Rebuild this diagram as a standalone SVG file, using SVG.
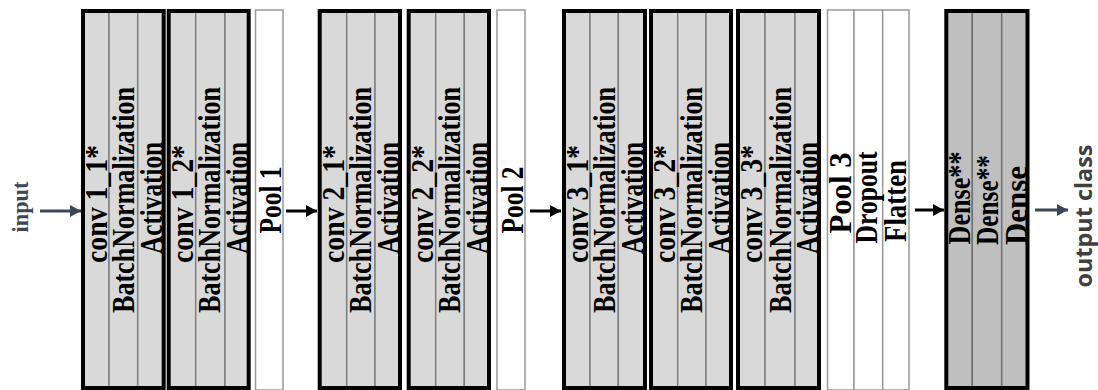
<svg xmlns="http://www.w3.org/2000/svg" width="1098" height="390" viewBox="0 0 1098 390">
<style>
.cell{fill:#d9d9d9;stroke:#808080;stroke-width:1.5}
.dcell{fill:#bfbfbf;stroke:#707070;stroke-width:1.5}
.wcell{fill:#ffffff;stroke:#999999;stroke-width:1.5}
.frame{fill:none;stroke:#000000;stroke-width:4}
.t{font-family:"Liberation Serif","Times New Roman",serif;font-weight:bold;font-size:31px;fill:#000;text-anchor:middle}
.lbl{font-family:"Liberation Serif","Times New Roman",serif;font-weight:bold;font-size:24px;fill:#3b4656;text-anchor:middle}
.out{font-family:"Open Sans","Liberation Sans",sans-serif;font-weight:bold;font-size:24px;fill:#404040;text-anchor:middle}
.ab{stroke:#000;stroke-width:3;fill:none}
.as{stroke:#3b4656;stroke-width:3;fill:none}
</style>
<defs>
<marker id="hb" markerUnits="userSpaceOnUse" markerWidth="11" markerHeight="12" refX="11" refY="6" orient="auto"><path d="M0,0 L11,6 L0,12 z" fill="#000"/></marker>
<marker id="hs" markerUnits="userSpaceOnUse" markerWidth="11" markerHeight="12" refX="11" refY="6" orient="auto"><path d="M0,0 L11,6 L0,12 z" fill="#3b4656"/></marker>
</defs>
<rect width="1098" height="390" fill="#fff"/>

<g id="input">
<text class="lbl" transform="translate(28,207) rotate(-90)" textLength="51" lengthAdjust="spacingAndGlyphs">input</text>
</g>

<g id="conv1_1">
<rect class="cell" x="83" y="11" width="26" height="377"/>
<rect class="cell" x="109" y="11" width="28.7" height="377"/>
<rect class="cell" x="137.7" y="11" width="26" height="377"/>
<rect class="frame" x="83" y="11" width="80.7" height="377"/>
<text class="t" transform="translate(107,204) rotate(-90)" textLength="118" lengthAdjust="spacingAndGlyphs">conv 1_1*</text>
<text class="t" transform="translate(134,200) rotate(-90)" textLength="226" lengthAdjust="spacingAndGlyphs">BatchNormalization</text>
<text class="t" transform="translate(162,198) rotate(-90)" textLength="112" lengthAdjust="spacingAndGlyphs">Activation</text>
</g>

<g id="conv1_2">
<rect class="cell" x="168.7" y="11" width="27" height="377"/>
<rect class="cell" x="195.7" y="11" width="29.3" height="377"/>
<rect class="cell" x="225" y="11" width="23.7" height="377"/>
<rect class="frame" x="168.7" y="11" width="80" height="377"/>
<text class="t" transform="translate(193,204) rotate(-90)" textLength="118" lengthAdjust="spacingAndGlyphs">conv 1_2*</text>
<text class="t" transform="translate(220,200) rotate(-90)" textLength="226" lengthAdjust="spacingAndGlyphs">BatchNormalization</text>
<text class="t" transform="translate(247.5,198) rotate(-90)" textLength="112" lengthAdjust="spacingAndGlyphs">Activation</text>
</g>

<g id="pool1">
<rect class="wcell" x="255.5" y="10" width="27.5" height="380"/>
<text class="t" transform="translate(281,200) rotate(-90)" textLength="67" lengthAdjust="spacingAndGlyphs">Pool 1</text>
</g>

<g id="conv2_1">
<rect class="cell" x="319.7" y="11" width="27" height="377"/>
<rect class="cell" x="346.7" y="11" width="28.3" height="377"/>
<rect class="cell" x="375" y="11" width="25" height="377"/>
<rect class="frame" x="319.7" y="11" width="80.3" height="377"/>
<text class="t" transform="translate(344,204) rotate(-90)" textLength="118" lengthAdjust="spacingAndGlyphs">conv 2_1*</text>
<text class="t" transform="translate(371,200) rotate(-90)" textLength="226" lengthAdjust="spacingAndGlyphs">BatchNormalization</text>
<text class="t" transform="translate(398.5,198) rotate(-90)" textLength="112" lengthAdjust="spacingAndGlyphs">Activation</text>
</g>

<g id="conv2_2">
<rect class="cell" x="408.7" y="11" width="27" height="377"/>
<rect class="cell" x="435.7" y="11" width="28.6" height="377"/>
<rect class="cell" x="464.3" y="11" width="24.7" height="377"/>
<rect class="frame" x="408.7" y="11" width="80.3" height="377"/>
<text class="t" transform="translate(433,204) rotate(-90)" textLength="118" lengthAdjust="spacingAndGlyphs">conv 2_2*</text>
<text class="t" transform="translate(460,200) rotate(-90)" textLength="226" lengthAdjust="spacingAndGlyphs">BatchNormalization</text>
<text class="t" transform="translate(487.5,198) rotate(-90)" textLength="112" lengthAdjust="spacingAndGlyphs">Activation</text>
</g>

<g id="pool2">
<rect class="wcell" x="497" y="10" width="28" height="380"/>
<text class="t" transform="translate(523,200) rotate(-90)" textLength="67" lengthAdjust="spacingAndGlyphs">Pool 2</text>
</g>

<g id="conv3_1">
<rect class="cell" x="564" y="11" width="26" height="377"/>
<rect class="cell" x="590" y="11" width="28.3" height="377"/>
<rect class="cell" x="618.3" y="11" width="26.7" height="377"/>
<rect class="frame" x="564" y="11" width="81" height="377"/>
<text class="t" transform="translate(588,204) rotate(-90)" textLength="118" lengthAdjust="spacingAndGlyphs">conv 3_1*</text>
<text class="t" transform="translate(615,200) rotate(-90)" textLength="226" lengthAdjust="spacingAndGlyphs">BatchNormalization</text>
<text class="t" transform="translate(643,198) rotate(-90)" textLength="112" lengthAdjust="spacingAndGlyphs">Activation</text>
</g>

<g id="conv3_2">
<rect class="cell" x="651" y="11" width="26.7" height="377"/>
<rect class="cell" x="677.7" y="11" width="28.3" height="377"/>
<rect class="cell" x="706" y="11" width="25" height="377"/>
<rect class="frame" x="651" y="11" width="80" height="377"/>
<text class="t" transform="translate(675,204) rotate(-90)" textLength="118" lengthAdjust="spacingAndGlyphs">conv 3_2*</text>
<text class="t" transform="translate(702,200) rotate(-90)" textLength="226" lengthAdjust="spacingAndGlyphs">BatchNormalization</text>
<text class="t" transform="translate(730,198) rotate(-90)" textLength="112" lengthAdjust="spacingAndGlyphs">Activation</text>
</g>

<g id="conv3_3">
<rect class="cell" x="738" y="11" width="27" height="377"/>
<rect class="cell" x="765" y="11" width="30" height="377"/>
<rect class="cell" x="795" y="11" width="24" height="377"/>
<rect class="frame" x="738" y="11" width="81" height="377"/>
<text class="t" transform="translate(762,204) rotate(-90)" textLength="118" lengthAdjust="spacingAndGlyphs">conv 3_3*</text>
<text class="t" transform="translate(791,200) rotate(-90)" textLength="226" lengthAdjust="spacingAndGlyphs">BatchNormalization</text>
<text class="t" transform="translate(817.5,198) rotate(-90)" textLength="112" lengthAdjust="spacingAndGlyphs">Activation</text>
</g>

<g id="pool3">
<rect class="wcell" x="827.5" y="10" width="26.5" height="380"/>
<rect class="wcell" x="854" y="10" width="28.7" height="380"/>
<rect class="wcell" x="882.7" y="10" width="26.3" height="380"/>
<text class="t" transform="translate(851,193) rotate(-90)" textLength="81" lengthAdjust="spacingAndGlyphs">Pool 3</text>
<text class="t" transform="translate(877,197.5) rotate(-90)" textLength="92" lengthAdjust="spacingAndGlyphs">Dropout</text>
<text class="t" transform="translate(906,201) rotate(-90)" textLength="82" lengthAdjust="spacingAndGlyphs">Flatten</text>
</g>

<g id="dense">
<rect class="dcell" x="946.3" y="11" width="26" height="377"/>
<rect class="dcell" x="972.3" y="11" width="29.4" height="377"/>
<rect class="dcell" x="1001.7" y="11" width="25.8" height="377"/>
<rect class="frame" x="946.3" y="11" width="81.2" height="377"/>
<text class="t" transform="translate(970,198) rotate(-90)" textLength="93" lengthAdjust="spacingAndGlyphs">Dense**</text>
<text class="t" transform="translate(998,200) rotate(-90)" textLength="90" lengthAdjust="spacingAndGlyphs">Dense**</text>
<text class="t" transform="translate(1027,205.5) rotate(-90)" textLength="79" lengthAdjust="spacingAndGlyphs">Dense</text>
</g>

<g id="output">
<text class="out" transform="translate(1092,216) rotate(-90)" textLength="143" lengthAdjust="spacingAndGlyphs">output class</text>
</g>

<g id="connectors">
<line class="as" x1="40" y1="211" x2="81" y2="211" marker-end="url(#hs)"/>
<line class="ab" x1="286" y1="211" x2="317" y2="211" marker-end="url(#hb)"/>
<line class="ab" x1="530" y1="211" x2="561" y2="211" marker-end="url(#hb)"/>
<line class="ab" x1="915" y1="210" x2="944" y2="210" marker-end="url(#hb)"/>
<line class="as" x1="1035" y1="210" x2="1068" y2="210" marker-end="url(#hs)"/>
</g>
</svg>
